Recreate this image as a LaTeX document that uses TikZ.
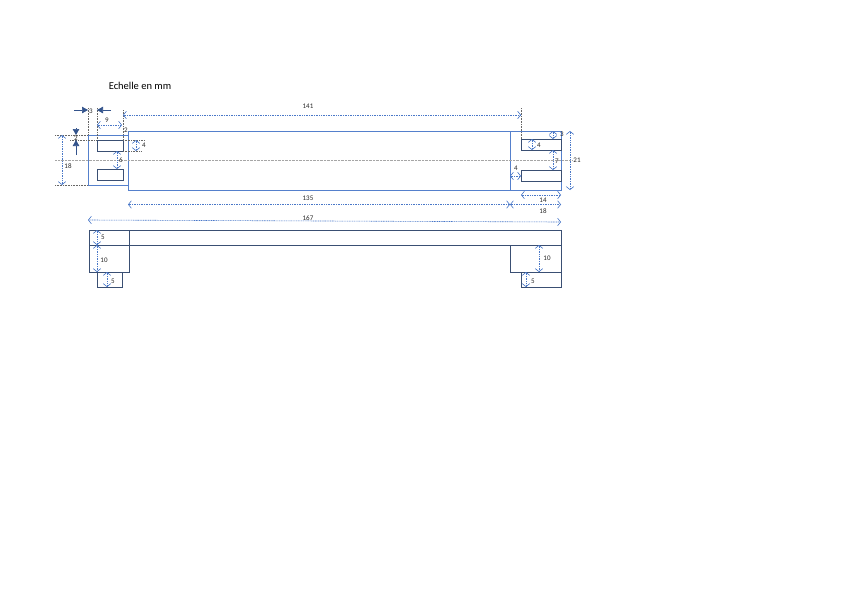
\documentclass[tikz,border=0pt]{standalone}
\usepackage{fontspec}
\setmainfont{Carlito}
\usetikzlibrary{arrows.meta}
\definecolor{bodyblue}{HTML}{5580CC}
\definecolor{slotdark}{HTML}{3A4F73}
\definecolor{dimblue}{HTML}{4A78C8}
\tikzset{
	part/.style={draw=bodyblue,line width=0.7pt},
	slot/.style={draw=slotdark,line width=0.7pt},
	dimline/.style={draw=dimblue,dash pattern=on 1pt off 0.7pt,line width=0.6pt,{Straight Barb[length=3pt,width=7.5pt,line width=0.6pt]}-{Straight Barb[length=3pt,width=7.5pt,line width=0.6pt]}},
	pointer/.style={draw=dimblue!70!black,line width=0.7pt,-{Triangle[length=6pt,width=6.5pt]}},
	guide/.style={draw=black!60,dash pattern=on 0.8pt off 0.8pt,line width=0.45pt},
	axis/.style={draw=black!35,dash pattern=on 0.8pt off 0.6pt,line width=0.7pt},
	dimtext/.style={font=\fontsize{7}{8}\selectfont,inner sep=0pt,text=black!85}
}
\begin{document}
\begin{tikzpicture}[x=1pt,y=-1pt]
	\useasboundingbox (0,0) rectangle (842,595);
	% Title
	\node [font=\fontsize{10.5}{12}\selectfont,inner sep=0pt] (title) at (140,86) {Echelle en mm};

	% Top view
	\coordinate (lt) at (88,135);
	\coordinate (lb) at (88,185);
	\draw [part] (128,135) -- (lt) -- (lb) -- (128,185);
	\draw [part] (128,131) rectangle (561,190);
	\draw [part] (510,131) -- (510,190);
	\draw [slot] (97,140) rectangle (123,151);
	\draw [slot] (97,169) rectangle (123,180);
	\draw [slot] (521,139) rectangle (561,150);
	\draw [slot] (521,170) rectangle (561,181);

	% Guide lines
	\draw [axis] (55,160) -- (572,160);
	\draw [guide] (55,135) -- (lt);
	\draw [guide] (55,185) -- (lb);
	\draw [guide] (70,140) -- (97,140);
	\draw [guide] (123,140) -- (144,140);
	\draw [guide] (123,151) -- (142,151);
	\draw [guide] (88,108) -- (lt);
	\draw [guide] (97,108) -- (97,140);
	\draw [guide] (123,110) -- (123,140);
	\draw [guide] (521,108) -- (521,139);

	% Side view
	\draw [slot] (89,230) rectangle (561,245);
	\draw [slot] (129,230) -- (129,245);
	\draw [slot] (89,245) rectangle (129,272);
	\draw [slot] (97,272) rectangle (122,287);
	\draw [slot] (510,245) rectangle (561,272);
	\draw [slot] (521,272) rectangle (561,287);

	% Place dimensions of the top view
	\node [dimtext] (n141) at (308,106) {141};
	\draw [dimline] (123,115) -- (521,115);
	\node [dimtext] (n3a) at (91,111) {3};
	\coordinate (p3a) at (74,110);
	\coordinate (p3b) at (111,110);
	\draw [pointer] (p3a) -- (88,110);
	\draw [pointer] (p3b) -- (97,110);
	\node [dimtext] (n2a) at (76,138) {2};
	\coordinate (p2a) at (76,128);
	\coordinate (p2b) at (76,155);
	\draw [pointer] (p2a) -- (76,135);
	\draw [pointer] (p2b) -- (76,140);
	\node [dimtext] (n9) at (107,120) {9};
	\draw [dimline] (97,125) -- (122,125);
	\node [dimtext] (n2b) at (126,130) {2};
	\node [dimtext] (n4a) at (144,145) {4};
	\draw [dimline] (136,140) -- (136,151);
	\node [dimtext] (n6) at (121,160) {6};
	\draw [dimline] (117,151) -- (117,169);
	\node [dimtext] (n18a) at (68,166) {18};
	\draw [dimline] (62,135) -- (62,185);
	\node [dimtext] (n3b) at (562,134) {3};
	\draw [dimline] (553,131) -- (553,139);
	\node [dimtext] (n4b) at (539,145) {4};
	\draw [dimline] (532,139) -- (532,150);
	\node [dimtext] (n7) at (557,161) {7};
	\draw [dimline] (553,150) -- (553,170);
	\node [dimtext] (n21) at (577,160) {21};
	\draw [dimline] (570,131) -- (570,190);
	\node [dimtext] (n4c) at (516,168) {4};
	\draw [dimline] (510,176) -- (521,176);
	\node [dimtext] (n14) at (543,200) {14};
	\draw [dimline] (521,195) -- (561,195);
	\node [dimtext] (n18b) at (543,211) {18};
	\draw [dimline] (510,204.5) -- (561,204.5);
	\node [dimtext] (n135) at (308,198) {135};
	\draw [dimline] (128,204.5) -- (510,204.5);
	\node [dimtext] (n167) at (308,218) {167};
	\draw [dimline] (88,220) -- (561,222);

	% Place dimensions of the side view
	\node [dimtext] (n5a) at (103,237) {5};
	\draw [dimline] (97,230) -- (97,245);
	\node [dimtext] (n10a) at (104,260) {10};
	\draw [dimline] (97,245) -- (97,272);
	\node [dimtext] (n5b) at (113,281) {5};
	\draw [dimline] (107,272) -- (107,287);
	\node [dimtext] (n10b) at (547,258) {10};
	\draw [dimline] (539,245) -- (539,272);
	\node [dimtext] (n5c) at (533,281) {5};
	\draw [dimline] (526,272) -- (526,287);
\end{tikzpicture}
\end{document}
